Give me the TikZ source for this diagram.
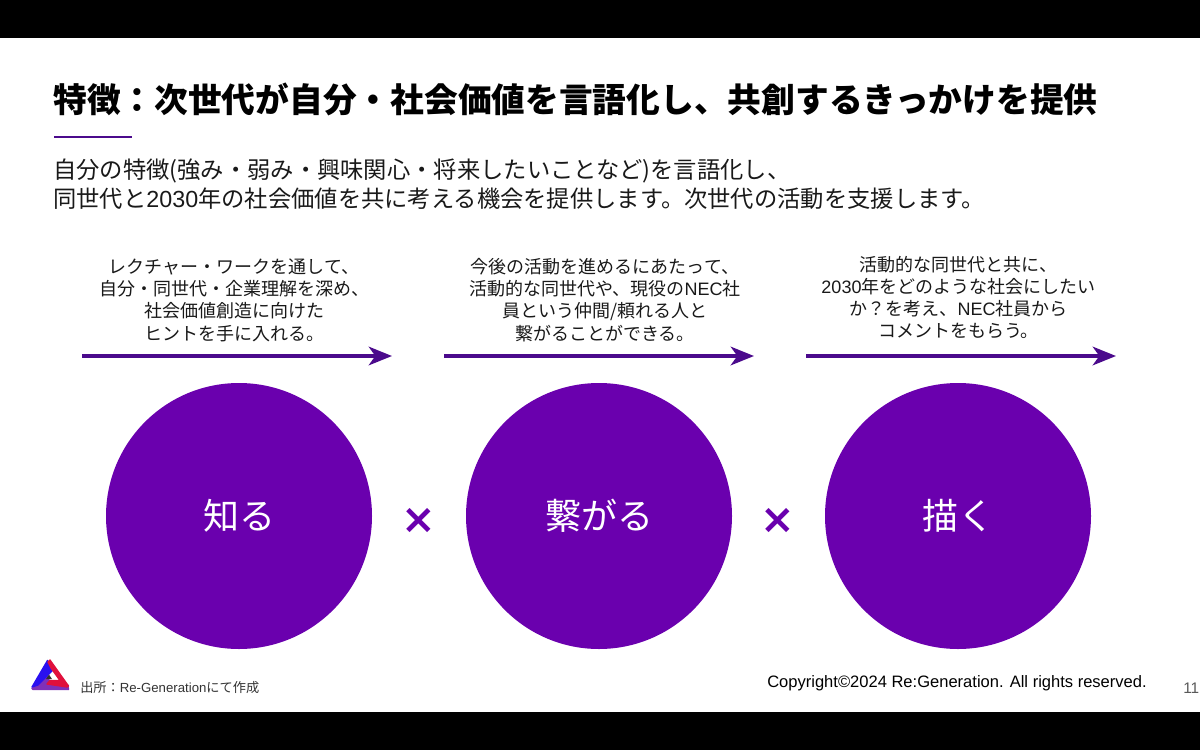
\documentclass[tikz,border=0pt]{standalone}
\usepackage{fontspec}
\setmainfont{Noto Sans CJK JP}
\newfontfamily\latinfont{Liberation Sans}
\newfontfamily\crossfont{DejaVu Sans}
\usetikzlibrary{arrows.meta}
\definecolor{circlepurple}{HTML}{6A00AE}
\definecolor{arrowpurple}{HTML}{4B0A8C}
\definecolor{logoblue}{HTML}{2A10F0}
\definecolor{logored}{HTML}{E0103C}
\definecolor{logopurple}{HTML}{8030B8}
\newcommand{\lat}[1]{{\latinfont #1}}
\begin{document}
\begin{tikzpicture}[x=0.75pt, y=-0.75pt,
    bar/.style={fill=black, draw=none},
    circlebox/.style={circle, fill=circlepurple, text=white, minimum size=199.5pt, inner sep=0pt, font=\fontsize{27}{31}\selectfont},
    hint/.style={align=center, font=\fontsize{13.5}{16.7}\selectfont, text=black!90},
    flow/.style={draw=arrowpurple, line width=2.4pt, -{Stealth[length=17.5pt, width=14pt, inset=5pt]}},
    times/.style={text=circlepurple, font=\crossfont\bfseries\fontsize{31}{32}\selectfont, inner sep=0pt},
    logopart/.style={line width=1pt, line join=round}]
    \useasboundingbox (0,0) rectangle (1200,750);
    \fill[bar] (0,0) rectangle (1200,38);
    \fill[bar] (0,712) rectangle (1200,750);

    \node(title)[anchor=west, inner sep=0pt] at (53,99)
        {\bfseries\fontsize{25.3}{30}\selectfont 特徴：次世代が自分・社会価値を言語化し、共創するきっかけを提供};
    \draw[arrowpurple, line width=0.8pt] (54,137) -- (132,137);
    \node(lead)[anchor=west, inner sep=0pt, align=left, text=black!90, font=\fontsize{17.47}{21.75}\selectfont] at (53,184.5)
        {自分の特徴(強み・弱み・興味関心・将来したいことなど)を言語化し、\\
         同世代と\lat{2030}年の社会価値を共に考える機会を提供します。次世代の活動を支援します。};

    % three steps
    \node(know)[circlebox] at (239,516) {知る};
    \node(link)[circlebox] at (599,516) {繋がる};
    \node(draft)[circlebox] at (958,516) {描く};
    \node(times-a)[times] at (419,521) {×};
    \node(times-b)[times] at (778,521) {×};

    \node(hint-know)[hint] at (234,300)
        {レクチャー・ワークを通して、\\自分・同世代・企業理解を深め、\\社会価値創造に向けた\\ヒントを手に入れる。};
    \node(hint-link)[hint] at (605,300)
        {今後の活動を進めるにあたって、\\活動的な同世代や、現役の\lat{NEC}社\\員という仲間/頼れる人と\\繋がることができる。};
    \node(hint-draft)[hint] at (958.5,297.5)
        {活動的な同世代と共に、\\\lat{2030}年をどのような社会にしたい\\か？を考え、\lat{NEC}社員から\\コメントをもらう。};

    \coordinate(from-a) at (82,356);   \coordinate(to-a) at (392,356);
    \coordinate(from-b) at (444,356);  \coordinate(to-b) at (754,356);
    \coordinate(from-c) at (806,356);  \coordinate(to-c) at (1116,356);
    \draw[flow] (from-a) -- (to-a);
    \draw[flow] (from-b) -- (to-b);
    \draw[flow] (from-c) -- (to-c);

    % logo
    \filldraw[logopart, draw=logopurple, fill=logopurple] (32,688.5) -- (48,676) -- (50,684) -- (68,685) -- (68.5,689.5) -- (33,689.5) -- cycle;
    \filldraw[logopart, draw=logoblue, fill=logoblue] (32,687) -- (47.5,660.5) -- (53,670) -- (38,685) -- cycle;
    \filldraw[logopart, draw=logored, fill=logored] (50,660) -- (68.5,686) -- (67,687) -- (47,684) -- (50,680.5) -- (60,680.5) -- (51,668) -- (48,662) -- cycle;
    \fill[black!80] (49,674.5) -- (52,679) -- (46,679) -- cycle;

    \node(source)[anchor=west, inner sep=0pt, text=black!80] at (80,688)
        {\fontsize{9.9}{12}\selectfont 出所：\lat{Re-Generation}にて作成};
    \node(copyright)[anchor=east, inner sep=0pt] at (1147,683)
        {\fontsize{12.4}{14}\selectfont\latinfont Copyright©2024 Re:Generation. All rights reserved.};
    \node(page)[anchor=west, inner sep=0pt, text=black!65] at (1183,688)
        {\fontsize{11.5}{14}\selectfont\latinfont 11};
\end{tikzpicture}
\end{document}
